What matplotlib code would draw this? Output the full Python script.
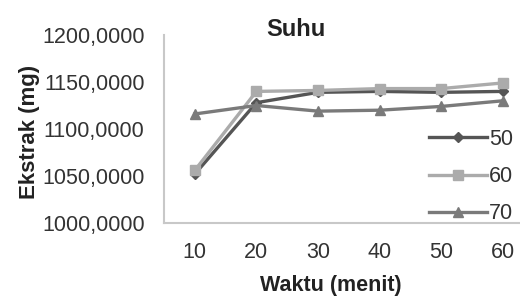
import matplotlib.pyplot as plt

plt.rcParams['font.family'] = ['Liberation Sans', 'DejaVu Sans']

# data
waktu = ['10', '20', '30', '40', '50', '60']
suhu_50 = [1052, 1128, 1139, 1140, 1139, 1140]
suhu_60 = [1056, 1140, 1141, 1143, 1143, 1149]
suhu_70 = [1116, 1125, 1119, 1120, 1124, 1130]
series_labels = ['50', '60', '70']

W, H = 520, 297
fig = plt.figure(figsize=(W / 100, H / 100), dpi=100)
ax = fig.add_axes([164 / W, (H - 223) / H, (W - 164) / W, (223 - 35) / H])

x = range(len(waktu))
ax.plot(x, suhu_50, color='#555555', lw=2.4, marker='D', ms=5, label=series_labels[0])
ax.plot(x, suhu_60, color='#ababab', lw=2.4, marker='s', ms=7, label=series_labels[1])
ax.plot(x, suhu_70, color='#7a7a7a', lw=2.4, marker='^', ms=7, label=series_labels[2])

ax.set_ylim(1000, 1200)
ax.set_yticks([1000, 1050, 1100, 1150, 1200])
ax.set_yticklabels([f'{v},0000' for v in [1000, 1050, 1100, 1150, 1200]])
ax.set_xlim(-0.5, -0.5 + (W - 164) / 61.6)
ax.set_xticks(list(x))
ax.set_xticklabels(waktu)
ax.tick_params(length=0, labelsize=15.5, colors='#333333')
ax.tick_params(axis='y', pad=14)
ax.tick_params(axis='x', pad=14)

for s in ['top', 'right']:
    ax.spines[s].set_visible(False)
for s in ['left', 'bottom']:
    ax.spines[s].set_color('#c8c8c8')
    ax.spines[s].set_linewidth(1.5)

fig.text(296 / W, 1 - 30 / H, 'Suhu', fontsize=17, fontweight='bold',
         ha='center', va='center', color='#222222')
fig.text(30 / W, 1 - 132 / H, 'Ekstrak (mg)', fontsize=16, fontweight='bold',
         rotation=90, ha='center', va='center', color='#222222')
fig.text(331 / W, 1 - 285 / H, 'Waktu (menit)', fontsize=15.5, fontweight='bold',
         ha='center', va='center', color='#222222')

leg = ax.legend(loc='upper right', bbox_to_anchor=(513 / W, 1 - 129 / H),
                bbox_transform=fig.transFigure, frameon=False, fontsize=15.5,
                handlelength=2.7, handletextpad=0.1, labelspacing=0.75,
                borderpad=0, borderaxespad=0)
for t in leg.get_texts():
    t.set_color('#333333')

fig.savefig('out.png', dpi=100)
